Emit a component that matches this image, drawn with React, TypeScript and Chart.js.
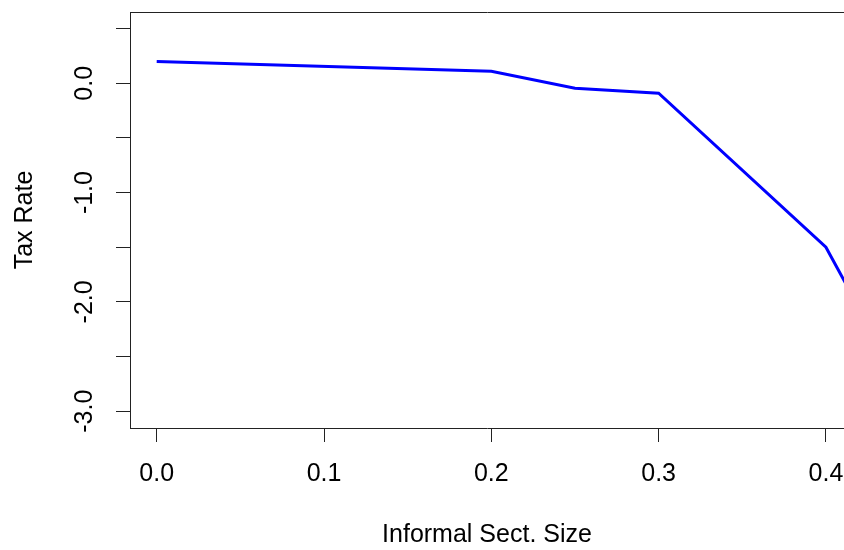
import React, { useEffect, useRef } from "react";
import { Chart, registerables } from "chart.js";

Chart.register(...registerables);

const xValues = [0, 0.2, 0.25, 0.3, 0.4, 0.42];
const taxRate = [0.2, 0.11, -0.045, -0.091, -1.5, -2.06];
const xTicks = [0, 0.1, 0.2, 0.3, 0.4];
const yTicks = [-3, -2.5, -2, -1.5, -1, -0.5, 0, 0.5];
const xTitle = "Informal Sect. Size";
const yTitle = "Tax Rate";

const FONT = "'Liberation Sans', Arial, sans-serif";
const AXIS = "#222";

const topBorder = {
  id: "topBorder",
  afterDraw(chart: any) {
    const { ctx, chartArea } = chart;
    ctx.save();
    ctx.strokeStyle = AXIS;
    ctx.lineWidth = 1;
    ctx.beginPath();
    const y = Math.round(chartArea.top) + 0.5;
    ctx.moveTo(chartArea.left, y);
    ctx.lineTo(chartArea.right + 2, y);
    ctx.stroke();
    ctx.restore();
  },
};

const noPad = (s: any) => {
  s.paddingTop = 0;
  s.paddingBottom = 0;
  s.paddingLeft = 0;
  s.paddingRight = 0;
};

export default function App() {
  const ref = useRef<HTMLCanvasElement>(null);
  useEffect(() => {
    const chart = new Chart(ref.current!, {
      type: "line",
      data: {
        datasets: [
          {
            data: xValues.map((x, i) => ({ x, y: taxRate[i] })),
            borderColor: "#0000ff",
            borderWidth: 3,
            pointRadius: 0,
            tension: 0,
            fill: false,
          },
        ],
      },
      options: {
        animation: false,
        responsive: false,
        layout: { padding: { top: 12, left: 0, right: 0, bottom: 0 } },
        plugins: { legend: { display: false }, tooltip: { enabled: false } },
        scales: {
          x: {
            type: "linear",
            min: -0.01596,
            max: 0.4108,
            afterBuildTicks: (s: any) => {
              s.ticks = xTicks.map((v) => ({ value: v }));
            },
            afterFit: (s: any) => {
              s.height = 122;
              noPad(s);
            },
            grid: {
              drawOnChartArea: false,
              drawTicks: true,
              tickLength: 14,
              tickColor: AXIS,
              tickWidth: 1,
            },
            border: { display: true, color: AXIS, width: 1 },
            ticks: {
              color: "#000",
              font: { family: FONT, size: 25 },
              padding: 17,
              maxRotation: 0,
              minRotation: 0,
              callback: (v: any) => Number(v).toFixed(1),
            },
            title: {
              display: true,
              text: xTitle,
              color: "#000",
              font: { family: FONT, size: 25, lineHeight: 1.2 },
              padding: { top: -3, bottom: 0 },
            },
          },
          y: {
            type: "linear",
            min: -3.154,
            max: 0.652,
            afterBuildTicks: (s: any) => {
              s.ticks = yTicks.map((v) => ({ value: v }));
            },
            afterFit: (s: any) => {
              s.width = 130;
              noPad(s);
            },
            grid: {
              drawOnChartArea: false,
              drawTicks: true,
              tickLength: 14,
              tickColor: AXIS,
              tickWidth: 1,
            },
            border: { display: true, color: AXIS, width: 1 },
            ticks: {
              color: "#000",
              font: { family: FONT, size: 25 },
              padding: 9,
              minRotation: 90,
              maxRotation: 90,
              crossAlign: "center",
              callback: (v: any) =>
                Number.isInteger(Number(v)) ? Number(v).toFixed(1) : "",
            },
            title: {
              display: true,
              text: yTitle,
              color: "#000",
              font: { family: FONT, size: 25, lineHeight: 1.2 },
              padding: { top: 10, bottom: 0 },
            },
          },
        },
      },
      plugins: [topBorder],
    });
    return () => chart.destroy();
  }, []);
  return (
    <div style={{ position: "absolute", left: 0, top: 0, width: 844, height: 550, overflow: "hidden" }}>
      <canvas ref={ref} width={844} height={550} />
    </div>
  );
}
